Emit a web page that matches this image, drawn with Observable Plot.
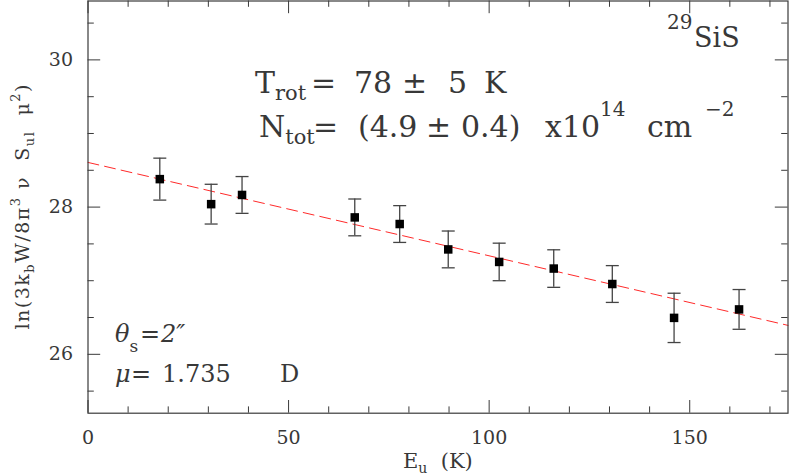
<!DOCTYPE html>
<html><head><meta charset="utf-8">
<script src="https://cdn.jsdelivr.net/npm/d3@7"></script>
<script src="https://cdn.jsdelivr.net/npm/@observablehq/plot@0.6"></script>
<style>
html,body{margin:0;padding:0;background:#fff;}
#chart svg{display:block;}
</style></head><body><div id="chart"></div>
<script>
// ---- data ----
const Eu   = [17.9, 30.7, 38.4, 66.5, 77.7, 89.8, 102.5, 116.1, 130.7, 146.1, 162.3];
const lnN  = [28.38, 28.04, 28.165, 27.86, 27.77, 27.425, 27.255, 27.165, 26.955, 26.495, 26.61];
const err  = [0.285, 0.27, 0.25, 0.25, 0.25, 0.25, 0.255, 0.255, 0.25, 0.335, 0.27];
const fitEu = [0, 174.5];
const fitLn = [28.607, 26.393];
const xMajor = [0, 50, 100, 150];
const xMinor = [10, 20, 30, 40, 60, 70, 80, 90, 110, 120, 130, 140, 160, 170];
const yMajor = [26, 28, 30];
const yMinor = [25.5, 26.5, 27, 27.5, 28.5, 29, 29.5, 30.5];
const xDomain = [0, 174.5];
const yDomain = [25.2, 30.8];

// ---- layout ----
const W = 789, H = 475;
const mL = 87.5, mR = 1.5, mT = 0.5, mB = 62.3;
const innerW = W - mL - mR, innerH = H - mT - mB;
const majorLen = 12.7, minorLen = 6.3;
const axisColor = "#3a3a3a", textColor = "#383838";

const pts = Eu.map((x, i) => ({x, y: lnN[i], lo: lnN[i] - err[i], hi: lnN[i] + err[i]}));
const fit = fitEu.map((x, i) => ({x, y: fitLn[i]}));
const cap = {draw(ctx, size) { const r = Math.sqrt(size / Math.PI); ctx.moveTo(-r, 0); ctx.lineTo(r, 0); }};

const plot = Plot.plot({
  width: W, height: H,
  marginLeft: mL, marginRight: mR, marginTop: mT, marginBottom: mB,
  x: {domain: xDomain},
  y: {domain: yDomain},
  style: {fontFamily: "'DejaVu Serif', serif", fontSize: "19px", color: textColor, background: "#fff", overflow: "visible"},
  marks: [
    Plot.axisX(xMajor, {tickSize: 0, tickPadding: 17, label: null, fontSize: 19, tickFormat: d => String(d)}),
    Plot.axisY(yMajor, {tickSize: 0, tickPadding: 15, label: null, fontSize: 19, tickFormat: d => String(d)}),
    // inward ticks on all four sides
    Plot.tickX(xMajor, {x: d => d, insetTop: innerH - majorLen, stroke: axisColor}),
    Plot.tickX(xMajor, {x: d => d, insetBottom: innerH - majorLen, stroke: axisColor}),
    Plot.tickX(xMinor, {x: d => d, insetTop: innerH - minorLen, stroke: axisColor}),
    Plot.tickX(xMinor, {x: d => d, insetBottom: innerH - minorLen, stroke: axisColor}),
    Plot.tickY(yMajor, {y: d => d, insetRight: innerW - majorLen, stroke: axisColor}),
    Plot.tickY(yMajor, {y: d => d, insetLeft: innerW - majorLen, stroke: axisColor}),
    Plot.tickY(yMinor, {y: d => d, insetRight: innerW - minorLen, stroke: axisColor}),
    Plot.tickY(yMinor, {y: d => d, insetLeft: innerW - minorLen, stroke: axisColor}),
    // fit
    Plot.line(fit, {x: "x", y: "y", stroke: "#ff2a2a", strokeWidth: 1, strokeDasharray: "11,6"}),
    // error bars
    Plot.ruleX(pts, {x: "x", y1: "lo", y2: "hi", stroke: "#444", strokeWidth: 1.3}),
    Plot.dot(pts, {x: "x", y: "lo", symbol: cap, r: 6.5, stroke: "#444", strokeWidth: 1.3, fill: "none"}),
    Plot.dot(pts, {x: "x", y: "hi", symbol: cap, r: 6.5, stroke: "#444", strokeWidth: 1.3, fill: "none"}),
    Plot.dot(pts, {x: "x", y: "y", symbol: "square", r: 4.8, fill: "#000", stroke: "none"}),
    Plot.frame({stroke: axisColor, strokeWidth: 1.2})
  ]
});
document.getElementById("chart").appendChild(plot);

// ---- rich text annotations (sub/superscripts) ----
const svg = d3.select(plot);
function rich({x, y, size, rotate, length, anchor = "start", parts}) {
  const t = svg.append("text").attr("x", x).attr("y", y).attr("font-size", size)
    .attr("fill", textColor).attr("text-anchor", anchor)
    .attr("font-family", "'DejaVu Serif', serif").style("white-space", "pre");
  if (rotate) t.attr("transform", `rotate(${rotate} ${x} ${y})`);
  let cur = 0;
  for (const p of parts) {
    const ts = t.append("tspan").text(p.t);
    if (p.x != null) ts.attr("x", p.x);
    const s = p.shift || 0;
    if (s !== cur) { ts.attr("dy", s - cur); cur = s; }
    if (p.size) ts.attr("font-size", p.size);
    if (p.it) ts.attr("font-style", "italic");
  }
  if (length) t.attr("textLength", length).attr("lengthAdjust", "spacing");
  return t;
}

// molecule
rich({x: 667, y: 46.7, size: 27, parts: [
  {t: "29", shift: -18, size: 20}, {t: "SiS", x: 694, shift: 0}
]});
// T_rot
rich({x: 255, y: 92.7, size: 30, parts: [
  {t: "T"}, {t: "rot", shift: 7.5, size: 21},
  {t: "=", x: 311, shift: 0}, {t: "78", x: 354}, {t: "\u00b1", x: 402}, {t: "5", x: 448}, {t: "K", x: 484}
]});
// N_tot
rich({x: 259, y: 136.7, size: 30, parts: [
  {t: "N"}, {t: "tot", shift: 7.5, size: 21},
  {t: "=", x: 313, shift: 0}, {t: "(4.9", x: 358}, {t: "\u00b1", x: 426}, {t: "0.4)", x: 461},
  {t: "x10", x: 545}, {t: "14", shift: -21, size: 20},
  {t: "cm", x: 647, shift: 0}, {t: "\u22122", x: 705, shift: -21, size: 20}
]});
// theta_s
rich({x: 115, y: 341.7, size: 24, parts: [
  {t: "\u03b8", it: true}, {t: "s", shift: 10, size: 17},
  {t: "=", x: 140, shift: 0}, {t: "2\u2033", x: 161, it: true}
]});
// mu
rich({x: 115, y: 381.7, size: 24, parts: [
  {t: "\u03bc", it: true}, {t: "=", x: 131}, {t: "1.735", x: 162}, {t: "D", x: 280}
]});
// x label
rich({x: 403, y: 468.3, size: 21, parts: [
  {t: "E"}, {t: "u", shift: 5, size: 14}, {t: "  (K)", shift: 0}
]});
// y label
rich({x: 29, y: 207, size: 19, rotate: -90, anchor: "middle", length: 245, parts: [
  {t: "ln(3k"}, {t: "b", shift: 5, size: 13}, {t: "W/8\u03c0", shift: 0},
  {t: "3", shift: -9, size: 13}, {t: " \u03bd  S", shift: 0},
  {t: "ul", shift: 5, size: 13}, {t: "  \u03bc", shift: 0},
  {t: "2", shift: -9, size: 13}, {t: ")", shift: 0}
]});
</script>
</body></html>
